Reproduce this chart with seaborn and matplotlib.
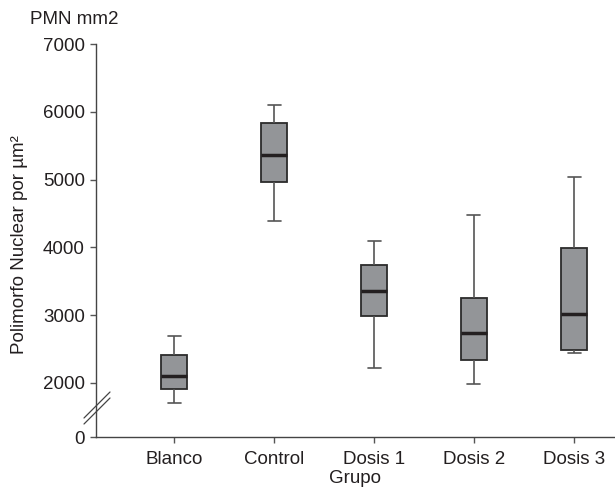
import matplotlib
matplotlib.use("Agg")
import matplotlib.pyplot as plt
import seaborn as sns
import pandas as pd
import numpy as np
from matplotlib.lines import Line2D

# Box statistics: min, Q1, median, Q3, max
grupos = ["Blanco", "Control", "Dosis 1", "Dosis 2", "Dosis 3"]
blanco = [1705, 1910, 2105, 2415, 2695]
control = [4385, 4960, 5360, 5830, 6100]
dosis1 = [2225, 2985, 3360, 3745, 4090]
dosis2 = [1980, 2335, 2740, 3255, 4480]
dosis3 = [2445, 2485, 3010, 3985, 5030]
yticks = [0, 2000, 3000, 4000, 5000, 6000, 7000]

df = pd.DataFrame({
    "Grupo": np.repeat(grupos, 5),
    "valor": blanco + control + dosis1 + dosis2 + dosis3,
})

sns.set_style("white")
plt.rcParams["font.family"] = ["Liberation Sans", "DejaVu Sans"]
ink = "#231f20"
fs = 13.5

fig = plt.figure(figsize=(6.15, 4.9), dpi=100)
ax = fig.add_axes([96 / 615, 1 - 437 / 490, 1 - 96 / 615, (437 - 44) / 490])

# broken axis: 0..1500 squeezed, linear above
def fwd(y):
    y = np.asarray(y, dtype=float)
    return np.where(y >= 1500, y, 1500 - (1500 - y) * 0.2)

def inv(z):
    z = np.asarray(z, dtype=float)
    return np.where(z >= 1500, z, 1500 - (1500 - z) / 0.2)

ax.set_yscale("function", functions=(fwd, inv))

sns.boxplot(data=df, x="Grupo", y="valor", order=grupos, ax=ax,
            whis=(0, 100), width=0.26, color="#939598", saturation=1,
            linecolor=ink, linewidth=1.3,
            boxprops=dict(edgecolor="#2b2b2b", linewidth=1.3),
            whiskerprops=dict(color="#555555", linewidth=1.2),
            capprops=dict(color="#555555", linewidth=1.2),
            medianprops=dict(color=ink, linewidth=2.5))

ax.set_ylim(0, 7000)
ax.set_xlim(-0.78, 4.41)
ax.set_yticks(yticks)
ax.set_yticklabels([str(v) for v in yticks])
ax.yaxis.get_major_ticks()[0].tick1line.set_visible(False)

for s in ["top", "right"]:
    ax.spines[s].set_visible(False)
for s in ["left", "bottom"]:
    ax.spines[s].set_color("#444444")
    ax.spines[s].set_linewidth(1.0)

ax.tick_params(axis="both", which="major", direction="out", length=4.5,
               width=1.0, color="#555555", labelsize=fs, labelcolor=ink,
               left=True, bottom=True, pad=3.5)
ax.tick_params(axis="x", pad=5.5)

ax.set_xlabel("Grupo", fontsize=fs, color=ink)
ax.xaxis.set_label_coords((355 - 96) / 519, -41 / 393)
ax.xaxis.label.set_va("center")
ax.set_ylabel("Polimorfo Nuclear por µm²", fontsize=fs, color=ink)
ax.yaxis.set_label_coords(-76 / 519, 0.49)
ax.yaxis.label.set_va("center")

fig.text(74 / 615, 1 - 20 / 490, "PMN mm2", fontsize=fs, color=ink,
         ha="center", va="center")

# axis break marks
for dy in (0, 6):
    fig.add_artist(Line2D([84 / 615, 110 / 615],
                          [1 - (418 + dy) / 490, 1 - (392 + dy) / 490],
                          color="#444444", lw=0.9))

fig.savefig("out.png", dpi=100)
